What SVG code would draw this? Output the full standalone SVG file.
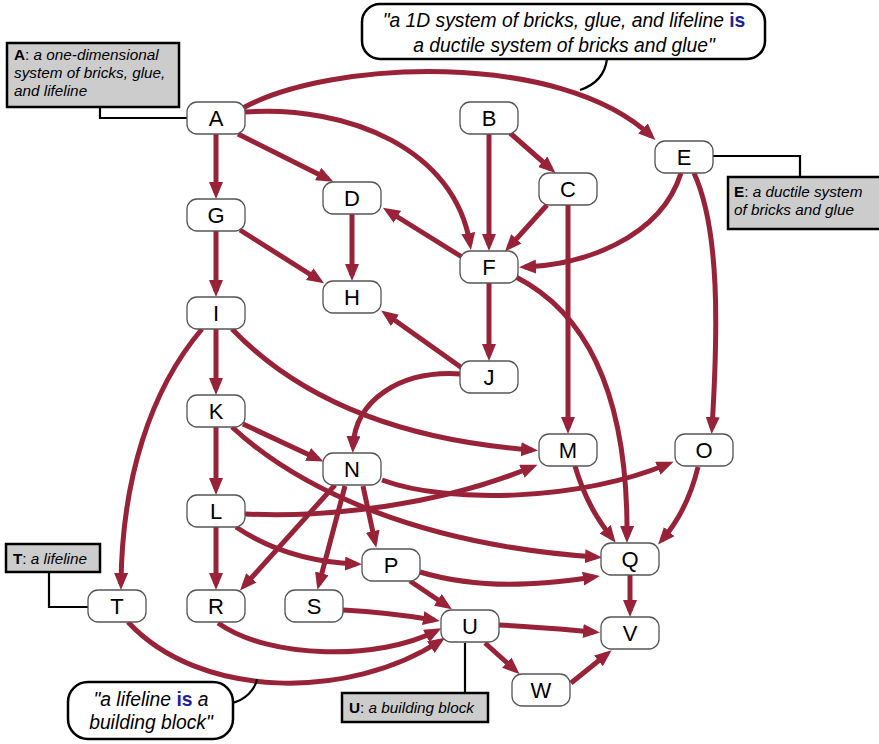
<svg xmlns="http://www.w3.org/2000/svg" width="879" height="744" viewBox="0 0 879 744">
<style>
.node rect{fill:#fff;stroke:#555;stroke-width:1.3}
.node text{font-family:"Liberation Sans",Arial,sans-serif;font-size:22px;text-anchor:middle;fill:#000}
.edges path{fill:none;stroke:#982339;stroke-width:5;marker-end:url(#arr)}
.ann rect{fill:#cccccc;stroke:#000;stroke-width:2.5}
.ann text{font-family:"Liberation Sans",Arial,sans-serif;font-size:15.3px;font-style:italic;fill:#000}
.ann .b{font-weight:bold;font-style:normal}
.ann .n{font-style:normal}
.lead{fill:none;stroke:#000;stroke-width:2.2}
.call rect{fill:#fff;stroke:#000;stroke-width:2.5}
.call text{font-family:"Liberation Sans",Arial,sans-serif;font-size:19.3px;font-style:italic;text-anchor:middle;fill:#000}
.call .is{font-weight:bold;font-style:normal;fill:#1f1f99}
</style>
<defs>
<marker id="arr" markerUnits="userSpaceOnUse" markerWidth="18" markerHeight="15" refX="11" refY="7" orient="auto">
<path d="M0,0 L17,7 L0,14 z" fill="#982339"/>
</marker>
</defs>

<g id="connectors" class="edges">
<path d="M216,133 L216,193"/>
<path d="M216,231 L216,291"/>
<path d="M216,329 L216,389"/>
<path d="M216,427 L216,489"/>
<path d="M216,527 L216,584"/>
<path d="M352,214 L352,275"/>
<path d="M489,133 L489,245"/>
<path d="M489,283 L489,355"/>
<path d="M568,205 L568,428"/>
<path d="M630,575 L630,611"/>
<path d="M238,134 L328,179"/>
<path d="M462,257 L388,211"/>
<path d="M240,230 L319,280"/>
<path d="M462,368 L386,314"/>
<path d="M510,133 L551,169"/>
<path d="M547,205 L509,247"/>
<path d="M243,424 L318,459"/>
<path d="M335,485 L244,586"/>
<path d="M345,486 L319,584"/>
<path d="M363,486 L375,542"/>
<path d="M410,581 L447,606"/>
<path d="M485,643 L515,670"/>
<path d="M571,683 L607,654"/>
<path d="M243,108 C330,60 560,50 651,136"/>
<path d="M245,112 C350,105 455,150 470,244"/>
<path d="M681,173 C660,240 580,265 525,267"/>
<path d="M694,173 C720,230 718,330 712,428"/>
<path d="M516,277 C600,320 628,420 627,537"/>
<path d="M232,329 C300,400 400,440 532,450"/>
<path d="M202,329 C150,390 122,480 121,584"/>
<path d="M461,374 C400,370 355,400 353,447"/>
<path d="M232,427 C300,490 420,545 596,557"/>
<path d="M382,480 C450,505 580,500 668,464"/>
<path d="M245,514 C330,518 440,505 532,467"/>
<path d="M236,527 C270,550 310,562 356,564"/>
<path d="M420,572 C480,590 540,585 594,577"/>
<path d="M218,623 C270,660 380,660 436,631"/>
<path d="M128,622 C200,700 350,700 440,641"/>
<path d="M343,610 C380,612 410,616 434,620"/>
<path d="M499,625 C540,627 570,630 594,632"/>
<path d="M575,466 C585,500 598,520 612,538"/>
<path d="M698,467 C690,500 675,525 662,540"/>
</g>

<g id="annotations">
<path class="lead" d="M100,107 L100,118 L187,118"/>
<path class="lead" d="M713,156 L800,156 L800,177"/>
<path class="lead" d="M49,572 L49,607 L88,607"/>
<path class="lead" d="M465,643 L465,693"/>
<path class="lead" d="M607,59 C605,75 595,85 580,90"/>
<path class="lead" d="M232,703 C245,700 255,690 257,679"/>
</g>

<g id="node-A" class="node"><rect x="187" y="102" width="58" height="32" rx="10"/><text x="216" y="126">A</text></g>
<g id="node-B" class="node"><rect x="460" y="102" width="58" height="32" rx="10"/><text x="489" y="126">B</text></g>
<g id="node-C" class="node"><rect x="539" y="173" width="58" height="32" rx="10"/><text x="568" y="197">C</text></g>
<g id="node-D" class="node"><rect x="323" y="182" width="58" height="32" rx="10"/><text x="352" y="206">D</text></g>
<g id="node-E" class="node"><rect x="655" y="141" width="58" height="32" rx="10"/><text x="684" y="165">E</text></g>
<g id="node-F" class="node"><rect x="460" y="251" width="58" height="32" rx="10"/><text x="489" y="275">F</text></g>
<g id="node-G" class="node"><rect x="187" y="199" width="58" height="32" rx="10"/><text x="216" y="223">G</text></g>
<g id="node-H" class="node"><rect x="323" y="281" width="58" height="32" rx="10"/><text x="352" y="305">H</text></g>
<g id="node-I" class="node"><rect x="187" y="297" width="58" height="32" rx="10"/><text x="216" y="321">I</text></g>
<g id="node-J" class="node"><rect x="460" y="361" width="58" height="32" rx="10"/><text x="489" y="385">J</text></g>
<g id="node-K" class="node"><rect x="187" y="395" width="58" height="32" rx="10"/><text x="216" y="419">K</text></g>
<g id="node-L" class="node"><rect x="187" y="495" width="58" height="32" rx="10"/><text x="216" y="519">L</text></g>
<g id="node-M" class="node"><rect x="539" y="434" width="58" height="32" rx="10"/><text x="568" y="458">M</text></g>
<g id="node-N" class="node"><rect x="323" y="453" width="58" height="32" rx="10"/><text x="352" y="477">N</text></g>
<g id="node-O" class="node"><rect x="675" y="434" width="58" height="32" rx="10"/><text x="704" y="458">O</text></g>
<g id="node-P" class="node"><rect x="362" y="549" width="58" height="32" rx="10"/><text x="391" y="573">P</text></g>
<g id="node-Q" class="node"><rect x="601" y="543" width="58" height="32" rx="10"/><text x="630" y="567">Q</text></g>
<g id="node-R" class="node"><rect x="187" y="590" width="58" height="32" rx="10"/><text x="216" y="614">R</text></g>
<g id="node-S" class="node"><rect x="285" y="590" width="58" height="32" rx="10"/><text x="314" y="614">S</text></g>
<g id="node-T" class="node"><rect x="88" y="590" width="58" height="32" rx="10"/><text x="117" y="614">T</text></g>
<g id="node-U" class="node"><rect x="441" y="610" width="58" height="32" rx="10"/><text x="470" y="634">U</text></g>
<g id="node-V" class="node"><rect x="601" y="617" width="58" height="32" rx="10"/><text x="630" y="641">V</text></g>
<g id="node-W" class="node"><rect x="512" y="674" width="58" height="32" rx="10"/><text x="541" y="698">W</text></g>

<g id="note-A" class="ann"><rect x="7" y="43" width="172" height="64"/>
<text x="14" y="60"><tspan class="b">A</tspan><tspan class="n">:</tspan> a one-dimensional</text>
<text x="14" y="78">system of bricks, glue,</text>
<text x="14" y="96">and lifeline</text></g>
<g id="note-E" class="ann"><rect x="728" y="177" width="156" height="52"/>
<text x="734" y="197"><tspan class="b">E</tspan><tspan class="n">:</tspan> a ductile system</text>
<text x="734" y="215">of bricks and glue</text></g>
<g id="note-T" class="ann"><rect x="6" y="544" width="94" height="28"/>
<text x="13" y="564"><tspan class="b">T</tspan><tspan class="n">:</tspan> a lifeline</text></g>
<g id="note-U" class="ann"><rect x="342" y="693" width="146" height="29"/>
<text x="349" y="713"><tspan class="b">U</tspan><tspan class="n">:</tspan> a building block</text></g>

<g id="callout-AE" class="call"><rect x="362" y="4" width="403" height="55" rx="18"/>
<text x="564" y="27">"a 1D system of bricks, glue, and lifeline <tspan class="is">is</tspan></text>
<text x="564" y="52">a ductile system of bricks and glue"</text></g>
<g id="callout-TU" class="call"><rect x="68" y="682" width="165" height="57" rx="20"/>
<text x="151" y="706">"a lifeline <tspan class="is">is</tspan> a</text>
<text x="151" y="729">building block"</text></g>
</svg>
